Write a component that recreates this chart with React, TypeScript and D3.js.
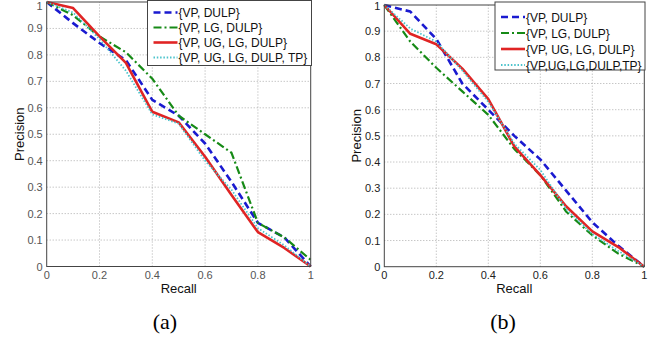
import React from "react";
import * as d3 from "d3";

// recall points shared by every curve
const recall = [0, 0.1, 0.2, 0.3, 0.4, 0.5, 0.6, 0.7, 0.8, 0.9, 1];

// panel (a)
const aVpDulp = [1, 0.92, 0.845, 0.78, 0.63, 0.57, 0.465, 0.32, 0.165, 0.11, 0.0];
const aVpLgDulp = [1, 0.95, 0.87, 0.81, 0.71, 0.57, 0.5, 0.43, 0.165, 0.11, 0.025];
const aVpUgLgDulp = [1, 0.977, 0.87, 0.77, 0.585, 0.545, 0.415, 0.27, 0.13, 0.07, 0.0];
const aVpUgLgDulpTp = [1, 0.96, 0.86, 0.74, 0.575, 0.54, 0.4, 0.29, 0.145, 0.08, 0.0];

// panel (b)
const bVpDulp = [1, 0.975, 0.87, 0.7, 0.6, 0.5, 0.41, 0.29, 0.17, 0.08, 0.0];
const bVpLgDulp = [1, 0.86, 0.76, 0.67, 0.58, 0.45, 0.35, 0.21, 0.12, 0.05, 0.0];
const bVpUgLgDulp = [1, 0.89, 0.85, 0.757, 0.64, 0.46, 0.35, 0.23, 0.135, 0.075, 0.0];
const bVpUgLgDulpTp = [1, 0.91, 0.86, 0.75, 0.63, 0.47, 0.37, 0.22, 0.125, 0.06, 0.0];

const legendA = ["{VP, DULP}", "{VP, LG, DULP}", "{VP, UG, LG, DULP}", "{VP, UG, LG, DULP, TP}"];
const legendB = ["{VP, DULP}", "{VP, LG, DULP}", "{VP, UG, LG, DULP}", "{VP,UG,LG,DULP,TP}"];

const xTicks = [0, 0.2, 0.4, 0.6, 0.8, 1];
const yTicks = [0, 0.1, 0.2, 0.3, 0.4, 0.5, 0.6, 0.7, 0.8, 0.9, 1];

const styles = [
  { color: "#1a1ad0", width: 2.6, dash: "7,4" },
  { color: "#168a16", width: 2.2, dash: "8,3,2,3" },
  { color: "#e02424", width: 2.6, dash: null },
  { color: "#4cc4cc", width: 1.8, dash: "1.5,1.8" },
];

const font = "Arial, 'Liberation Sans', sans-serif";

function fmt(v: number) {
  if (v === 0) return "0";
  if (v === 1) return "1";
  return String(v);
}

function Panel({ left, right, top, bottom, series, labels, legend, tickColor }: any) {
  const x = d3.scaleLinear().domain([0, 1]).range([left, right]);
  const y = d3.scaleLinear().domain([0, 1]).range([bottom, top]);
  const line = d3
    .line<number>()
    .x((_, i) => x(recall[i]))
    .y((d) => y(d));

  return (
    <g>
      {/* grid */}
      {xTicks.slice(1, -1).map((t) => (
        <line key={"gx" + t} x1={x(t)} x2={x(t)} y1={y(0)} y2={y(1)} stroke="#999" strokeWidth={0.8} strokeDasharray="1,2" />
      ))}
      {yTicks.slice(1, -1).map((t) => (
        <line key={"gy" + t} x1={x(0)} x2={x(1)} y1={y(t)} y2={y(t)} stroke="#999" strokeWidth={0.8} strokeDasharray="1,2" />
      ))}
      {/* curves */}
      {series.map((s: number[], i: number) => (
        <path
          key={"s" + i}
          d={line(s) || ""}
          fill="none"
          stroke={styles[i].color}
          strokeWidth={styles[i].width}
          strokeDasharray={styles[i].dash || undefined}
          strokeLinejoin="round"
        />
      ))}
      {/* box */}
      <rect x={x(0)} y={y(1)} width={x(1) - x(0)} height={y(0) - y(1)} fill="none" stroke="#444" strokeWidth={1} />
      {/* ticks */}
      {xTicks.map((t) => (
        <text key={"tx" + t} x={x(t)} y={bottom + 12.5} textAnchor="middle" fontFamily={font} fontSize={11} fill={tickColor}>
          {fmt(t)}
        </text>
      ))}
      {yTicks.map((t) => (
        <text key={"ty" + t} x={left - 4} y={Math.max(y(t) + 4, 10)} textAnchor="end" fontFamily={font} fontSize={11} fill={tickColor}>
          {fmt(t)}
        </text>
      ))}
      <text x={(left + right) / 2} y={bottom + 26} textAnchor="middle" fontFamily={font} fontSize={13} fill="#111">
        Recall
      </text>
      <text
        transform={`translate(${left - 23},${(top + bottom) / 2}) rotate(-90)`}
        textAnchor="middle"
        fontFamily={font}
        fontSize={13}
        fill="#111"
      >
        Precision
      </text>
      {/* legend */}
      <rect x={legend.x} y={legend.y} width={legend.w} height={legend.h} fill="#fff" stroke="#444" strokeWidth={1} />
      {labels.map((lab: string, i: number) => {
        const ly = legend.y + legend.first + i * legend.step;
        return (
          <g key={"l" + i}>
            <line
              x1={legend.x + 6}
              x2={legend.x + 30}
              y1={ly}
              y2={ly}
              stroke={styles[i].color}
              strokeWidth={styles[i].width}
              strokeDasharray={styles[i].dash || undefined}
            />
            <text x={legend.x + 31} y={ly + 4.5} fontFamily={font} fontSize={12} fill="#111">
              {lab}
            </text>
          </g>
        );
      })}
    </g>
  );
}

export default function App() {
  return (
    <svg width={662} height={339} style={{ position: "absolute", left: 0, top: 0, background: "#fff" }}>
      <rect width={662} height={339} fill="#fff" />
      <Panel
        left={46.7}
        right={310.7}
        top={2}
        bottom={266.5}
        series={[aVpDulp, aVpLgDulp, aVpUgLgDulp, aVpUgLgDulpTp]}
        labels={legendA}
        legend={{ x: 147.5, y: 0.5, w: 164, h: 65, first: 12, step: 15 }}
        tickColor="#555"
      />
      <Panel
        left={384.3}
        right={644.3}
        top={5}
        bottom={266.7}
        series={[bVpDulp, bVpLgDulp, bVpUgLgDulp, bVpUgLgDulpTp]}
        labels={legendB}
        legend={{ x: 495, y: 2, w: 150, h: 68, first: 15, step: 16 }}
        tickColor="#222"
      />
      <text x={165} y={329} textAnchor="middle" fontFamily="'Liberation Serif', 'Times New Roman', serif" fontSize={22} fill="#000">
        (a)
      </text>
      <text x={503} y={329} textAnchor="middle" fontFamily="'Liberation Serif', 'Times New Roman', serif" fontSize={22} fill="#000">
        (b)
      </text>
    </svg>
  );
}
